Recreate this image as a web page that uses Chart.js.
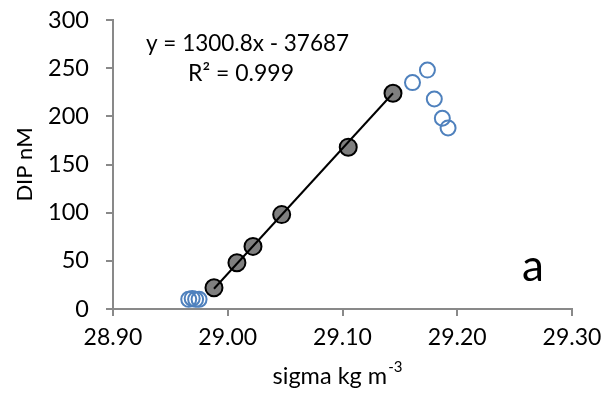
<!DOCTYPE html>
<html>
<head>
<meta charset="utf-8">
<script src="https://cdn.jsdelivr.net/npm/chart.js@4.4.0/dist/chart.umd.min.js"></script>
<style>
  html, body { margin: 0; padding: 0; background: #fff; }
</style>
</head>
<body>
<canvas id="mycanvas" width="607" height="397"></canvas>
<script>
// values
var fitSigma = [28.988, 29.008, 29.022, 29.047, 29.105, 29.144];   // grey points used for the fit
var fitDIP   = [22, 48, 65, 98, 168, 224];
var otherSigma = [28.966, 28.969, 28.972, 28.975, 29.161, 29.174, 29.180, 29.187, 29.192]; // open blue points
var otherDIP   = [10, 11, 10, 10, 235, 248, 218, 198, 188];
var trendSigma = [28.988, 29.144];  // trendline ends
var trendDIP   = [21, 224];
var xTicks = [28.90, 29.00, 29.10, 29.20, 29.30];
var yTicks = [0, 50, 100, 150, 200, 250, 300];

var FONT = "Lato";

function pairs(xs, ys) {
  var out = [];
  for (var i = 0; i < xs.length; i++) out.push({x: xs[i], y: ys[i]});
  return out;
}

// texts that Chart.js has no slot for: equation, panel letter, x title with superscript
var notes = {
  id: 'notes',
  afterDraw: function(chart) {
    var ctx = chart.ctx;
    ctx.save();
    ctx.fillStyle = '#000';
    ctx.textBaseline = 'alphabetic';
    ctx.textAlign = 'left';
    ctx.font = '22.5px ' + FONT;
    ctx.fillText('y = 1300.8x - 37687', 146, 51);
    ctx.font = '23px ' + FONT;
    ctx.fillText('R\u00b2 = 0.999', 188, 81);

    ctx.font = '44px ' + FONT;
    ctx.fillText('a', 522, 281);

    // x axis title
    ctx.font = '23.5px ' + FONT;
    var t = 'sigma kg m';
    var w = ctx.measureText(t).width;
    ctx.font = '15px ' + FONT;
    var w2 = ctx.measureText('-3').width;
    var x0 = 337 - (w + w2) / 2;
    ctx.font = '23.5px ' + FONT;
    ctx.fillText(t, x0, 384);
    ctx.font = '15px ' + FONT;
    ctx.fillText('-3', x0 + w + 1, 372);
    ctx.restore();
  }
};

var ctx = document.getElementById('mycanvas').getContext('2d');

var chart = new Chart(ctx, {
  type: 'scatter',
  data: {
    datasets: [
      {
        label: 'trend',
        data: pairs(trendSigma, trendDIP),
        showLine: true,
        borderColor: '#000',
        borderWidth: 2,
        pointRadius: 0,
        order: 0
      },
      {
        label: 'fit',
        data: pairs(fitSigma, fitDIP),
        backgroundColor: '#7f7f7f',
        borderColor: '#000',
        borderWidth: 2,
        pointRadius: 8.5,
        order: 1
      },
      {
        label: 'other',
        data: pairs(otherSigma, otherDIP),
        backgroundColor: 'rgba(0,0,0,0)',
        borderColor: '#4f81bd',
        borderWidth: 2,
        pointRadius: 7.5,
        order: 2
      }
    ]
  },
  options: {
    responsive: false,
    animation: false,
    layout: { autoPadding: false, padding: { top: 20, right: 35, left: 0, bottom: 0 } },
    plugins: {
      legend: { display: false },
      tooltip: { enabled: false }
    },
    scales: {
      x: {
        type: 'linear',
        min: 28.9,
        max: 29.3,
        afterBuildTicks: function(scale) {
          scale.ticks = xTicks.map(function(v) { return {value: v}; });
        },
        afterFit: function(scale) {
          scale.height = 88;
          scale.paddingLeft = 0;
          scale.paddingRight = 0;
        },
        ticks: {
          color: '#000',
          font: { family: FONT, size: 23 },
          padding: 8,
          maxRotation: 0,
          callback: function(v) { return Number(v).toFixed(2); }
        },
        grid: { drawOnChartArea: false, drawTicks: true, tickLength: 7, color: '#898989', lineWidth: 2 },
        border: { color: '#898989', width: 2 }
      },
      y: {
        type: 'linear',
        min: 0,
        max: 300,
        afterBuildTicks: function(scale) {
          scale.ticks = yTicks.map(function(v) { return {value: v}; });
        },
        afterFit: function(scale) {
          scale.width = 113;
          scale.paddingTop = 0;
          scale.paddingBottom = 0;
        },
        ticks: {
          color: '#000',
          font: { family: FONT, size: 23.5 },
          padding: 17
        },
        grid: { drawOnChartArea: false, drawTicks: true, tickLength: 7, color: '#898989', lineWidth: 2 },
        border: { color: '#898989', width: 2 },
        title: {
          display: true,
          text: 'DIP nM',
          color: '#000',
          font: { family: FONT, size: 22 },
          padding: { top: 12, bottom: 0 }
        }
      }
    }
  },
  plugins: [notes]
});
</script>
</body>
</html>
